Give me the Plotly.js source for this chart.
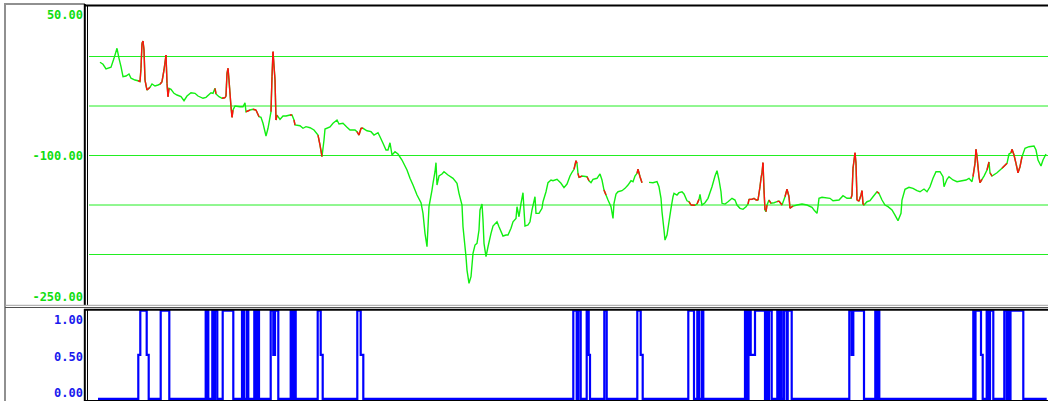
<!DOCTYPE html>
<html>
<head>
<meta charset="utf-8">
<script src="https://cdn.plot.ly/plotly-3.0.1.min.js"></script>
<style>html,body{margin:0;padding:0;background:#fff;}#chart{width:1048px;height:401px;}</style>
</head>
<body>
<div id="chart"></div>
<script>
// ---- main series (sample index, value) ----
const seriesT = [11,14,17,22,25,28,30,32,34,37,40,42,46,49,51,52,53,54,55,56,58,61,63,66,69,71,73,75,77,78,79,80,82,85,88,92,95,98,102,106,109,114,117,122,124,126,127,130,133,136,137,138,139,140,142,143,144,146,151,154,156,157,161,164,167,170,172,174,177,179,182,183,184,186,187,188,191,194,197,201,203,205,206,211,214,217,221,225,229,231,233,235,236,241,244,248,250,254,258,261,266,268,270,272,274,278,282,285,289,291,294,297,299,301,303,306,309,313,318,321,324,328,332,334,336,338,339,340,343,344,346,347,348,350,353,355,359,364,368,370,373,374,377,378,380,382,384,386,388,390,391,393,394,395,397,399,402,404,408,410,414,417,419,422,424,427,428,430,432,434,435,436,439,441,443,446,447,450,453,454,457,459,462,464,468,472,475,478,481,483,485,487,488,489,490,493,498,500,502,504,508,511,513,515,517,519,522,524,525,527,529,533,536,539,542,544,546,548,549,551,553,556,560,564,568,570,572,573,575,576,578,580,582,584,585,588,590,593,595,598,600,602,606,608,610,611,612,613,616,619,623,626,628,630,632,633,636,639,643,646,648,651,654,657,659,660,663,665,667,669,671,672,673,674,675,676,677,678,680,682,685,688,690,693,696,698,700,701,704,708,713,718,723,725,728,729,730,733,741,744,750,754,758,762,763,764,766,767,768,770,772,773,774,775,778,781,784,788,790,793,796,799,803,806,809,812,813,816,820,824,828,831,835,838,841,844,847,851,854,855,858,860,864,868,873,877,880,883,884,886,887,888,890,891,893,895,898,900,901,903,908,913,918,920,922,923,925,927,929,931,933,936,940,945,947,949,952,954,957];
const seriesV = [-0.3,-2.4,-7.4,-5.6,3.9,14.6,3.9,-5.0,-15.6,-14.9,-12.8,-17.3,-19.2,-19.9,-21.0,-6.7,19.9,22.3,12.8,-19.2,-29.8,-26.9,-23.4,-25.5,-24.5,-23.7,-21.0,-8.5,7.4,-22.7,-36.9,-28.0,-29.0,-33.3,-35.1,-36.9,-41.2,-36.2,-32.7,-33.3,-36.2,-38.6,-37.6,-32.7,-33.3,-28.0,-34.0,-36.9,-38.6,-38.0,-36.2,-12.0,-6.7,-19.2,-47.6,-58.8,-51.1,-46.8,-47.6,-47.6,-43.3,-52.9,-51.1,-50.3,-51.1,-58.2,-58.8,-65.2,-78.7,-70.5,-52.9,-15.6,11.0,-19.2,-61.7,-56.4,-61.0,-57.4,-57.4,-56.4,-56.4,-61.7,-67.0,-67.8,-70.5,-68.8,-69.9,-72.3,-77.7,-88.3,-100.7,-83.0,-71.3,-69.0,-65.2,-61.7,-66.0,-65.2,-69.5,-72.3,-72.3,-74.1,-77.7,-70.5,-70.5,-73.1,-74.1,-77.7,-75.2,-79.5,-86.5,-93.6,-93.6,-85.9,-98.9,-95.4,-97.9,-104.3,-114.9,-123.7,-130.9,-141.5,-149.7,-161.0,-182.2,-196.5,-175.2,-153.9,-136.2,-129.0,-116.7,-107.1,-130.9,-121.3,-119.1,-116.7,-120.2,-123.7,-129.0,-139.7,-152.1,-175.2,-207.1,-221.3,-235.4,-228.4,-203.5,-194.7,-192.9,-178.7,-157.4,-151.1,-168.1,-192.9,-207.1,-196.5,-182.2,-174.5,-169.9,-175.2,-185.1,-184.0,-184.0,-176.9,-169.9,-166.3,-153.9,-164.6,-150.3,-139.0,-157.4,-174.5,-173.4,-169.9,-157.4,-143.3,-161.0,-161.0,-155.6,-148.6,-138.0,-128.4,-125.5,-126.3,-124.8,-129.0,-133.7,-129.8,-121.3,-117.3,-114.1,-105.0,-107.8,-118.4,-122.7,-121.3,-122.0,-126.3,-128.4,-124.8,-123.7,-119.1,-125.5,-136.2,-141.5,-146.8,-153.9,-166.3,-150.3,-140.4,-138.0,-136.9,-134.4,-130.9,-126.3,-127.3,-121.3,-118.4,-114.1,-122.0,-128.4,null,-128.0,-128.4,-127.3,-132.7,-145.0,-159.3,-178.7,-189.4,-184.0,-169.9,-155.6,-143.3,-139.7,-141.5,-139.0,-138.0,-140.4,-147.6,-148.6,-152.1,-152.4,-151.1,-146.1,-140.7,-146.8,-152.1,-149.7,-145.0,-132.7,-121.3,-115.6,-125.5,-138.0,-150.3,-151.1,-148.6,-145.0,-146.8,-152.1,-155.6,-156.7,-153.9,-151.1,-146.1,-146.1,-145.0,-146.8,-146.8,-132.7,-123.7,-117.8,-107.1,-136.2,-157.4,-159.3,-152.1,-146.8,-150.3,-149.7,-148.6,-147.9,-152.1,-143.3,-135.4,-143.3,-155.6,-153.2,-152.1,-151.1,-152.1,-154.6,-157.4,-161.0,-153.9,-145.0,-143.9,-145.0,-147.6,-146.8,-142.2,-145.0,-145.0,-141.5,-113.1,-96.5,-107.8,-146.8,-147.9,-141.5,-136.9,-151.1,-152.1,-148.6,-147.6,-143.3,-138.0,-139.7,-146.8,-152.1,-153.9,-157.4,-162.8,-168.8,-161.0,-146.8,-135.4,-133.3,-134.4,-136.9,-138.0,-135.1,-138.0,-132.7,-123.7,-116.7,-116.7,-122.0,-132.7,-124.8,-122.0,-125.5,-127.3,-126.3,-125.5,-123.7,-127.3,-122.0,-107.8,-92.9,-100.7,-122.0,-128.4,-124.8,-121.3,-114.9,-106.4,-117.8,-121.3,-117.8,-113.1,-107.8,-97.9,-96.5,-92.9,-98.9,-107.8,-117.8,-111.4,-100.7,-91.8,-90.1,-89.4,-93.6,-104.3,-110.6,-104.3,-97.9];

// ---- signal (step: index where the level starts, new level) ----
const signalT = [9,49.3,51.3,57.7,59.7, 71.7,80.3, 116.7,117.7,118.3,119.3,123.3,125,126,128.3, 133.7,144.3, 153,155,157.7,159.3, 165.3,167,168,170, 181.7,184.3,186,189.3, 201.7,203.5,204.5,206.7, 228.7,231.7,233.7, 268.3,271.7,274.3, 484.3,487.7,489.3,491.7, 497.7,499.7,501, 515.3,517.7, 548.3,551.7,553.7, 599.3,605,608.3,610,612.7,614.3, 656,658,659.5,661.7,666,676,677,679,680,682.7, 688.3,690,691,692.7, 695,697.7,698.7,702.7, 760.3,762.7,764.3,775, 786.3,788,788.7,790.3, 884.3,886,886.5,892,893.7, 897.7,899.5,901,904.3, 915.3,917.7,919.3,920.5,921.5,934.3, 957.7];
const signalV = [0,0.5,1,0.5,0, 1,0, 1,0,1,0,1,0,1,0, 1,0, 1,0,1,0, 1,0,1,0, 1,0.5,1,0, 1,0,1,0, 1,0.5,0, 1,0.5,0, 1,0,1,0, 1,0.5,0, 1,0, 1,0.5,0, 1,0,1,0,1,0, 1,0,1,0.5,1,0,1,0,1,0, 1,0,1,0, 1,0,1,0, 1,0.5,1,0, 1,0,1,0, 1,0,1,0.5,0, 1,0,1,0, 1,0,1,0,1,0, 0];

// ---- tick labels ----
const mainTickVals = [50, -100, -250];
const mainTickText = ['50.00', '-100.00', '-250.00'];
const sigTickText = ['1.00', '0.50', '0.00'];
const sigTickPos = [0.895, 0.479, 0.071];

// ---- red overlay where the signal is on ----
function sigAt(x) {
  let s = 0;
  for (let i = 0; i < signalT.length; i++) { if (signalT[i] <= x) s = signalV[i]; else break; }
  return s;
}
const redT = [], redV = [];
for (let i = 0; i < seriesT.length - 1; i++) {
  if (seriesV[i] === null || seriesV[i + 1] === null) continue;
  const mid = (seriesT[i] + seriesT[i + 1]) / 2;
  if (sigAt(mid) > 0) {
    redT.push(seriesT[i], seriesT[i + 1], null);
    redV.push(seriesV[i], seriesV[i + 1], null);
  }
}

const W = 1048, H = 401, ML = 89, MT = 7;
const px = x => (x - ML) / (W - ML);
const py = y => (H - y) / (H - MT);
const yRange = [-257.4, 58.5];

const shapes = [];
for (let k = 1; k <= 5; k++) {
  const yv = yRange[0] + k * (yRange[1] - yRange[0]) / 6;
  shapes.push({type: 'line', xref: 'paper', yref: 'y', x0: 0, x1: 1, y0: yv, y1: yv,
    line: {color: '#22ee22', width: 1}, layer: 'below'});
}
function pl(x0, y0, x1, y1, color, width) {
  shapes.push({type: 'line', xref: 'paper', yref: 'paper', x0: px(x0), y0: py(y0), x1: px(x1), y1: py(y1),
    line: {color: color, width: width}, layer: 'above'});
}
// frame
pl(5, 4, 85, 4, '#909090', 2);
pl(5, 3, 5, 401, '#909090', 2);
pl(84, 5.5, 1048, 5.5, '#000000', 2);
pl(84.8, 4, 84.8, 305, '#000000', 2);
pl(87.5, 6, 87.5, 305, '#000000', 1);
pl(5, 305.3, 1048, 305.3, '#a0a0a0', 1);
pl(5, 307.5, 1048, 307.5, '#505050', 1);
pl(84, 309.8, 1048, 309.8, '#000000', 2);
pl(84.8, 309, 84.8, 401, '#000000', 2);
pl(87.5, 310, 87.5, 401, '#000000', 1);
pl(84, 400.5, 1048, 400.5, '#000000', 1);

const tickFont = {family: 'DejaVu Sans Mono, monospace', size: 12, weight: 'bold'};

const data = [
  {x: seriesT, y: seriesV, type: 'scatter', mode: 'lines', xaxis: 'x', yaxis: 'y',
   line: {color: '#11ee11', width: 1.4, simplify: false}, connectgaps: false, hoverinfo: 'skip'},
  {x: redT, y: redV, type: 'scatter', mode: 'lines', xaxis: 'x', yaxis: 'y',
   line: {color: '#ff1111', width: 1.4, simplify: false}, connectgaps: false, hoverinfo: 'skip'},
  {x: signalT, y: signalV, type: 'scatter', mode: 'lines', xaxis: 'x', yaxis: 'y2',
   line: {color: '#0000ff', width: 2.2, shape: 'hv', simplify: false}, hoverinfo: 'skip'}
];

const layout = {
  width: W, height: H,
  margin: {l: ML, r: 0, t: MT, b: 0, pad: 0},
  paper_bgcolor: '#ffffff', plot_bgcolor: '#ffffff',
  showlegend: false,
  xaxis: {range: [0, 959], showgrid: false, zeroline: false, showticklabels: false, ticks: '', showline: false, fixedrange: true},
  yaxis: {domain: [py(304), 1], range: yRange, tickvals: mainTickVals, ticktext: mainTickText,
    showgrid: false, zeroline: false, ticks: '', showline: false, ticklabelstandoff: 5,
    tickfont: Object.assign({color: '#11dd11'}, tickFont)},
  yaxis2: {domain: [0, py(310)], range: [-0.023, 1.008], tickvals: sigTickPos, ticktext: sigTickText,
    showgrid: false, zeroline: false, ticks: '', showline: false, ticklabelstandoff: 5,
    tickfont: Object.assign({color: '#1a1aee'}, tickFont)},
  shapes: shapes
};

Plotly.newPlot('chart', data, layout, {displayModeBar: false, staticPlot: true});
</script>
</body>
</html>
